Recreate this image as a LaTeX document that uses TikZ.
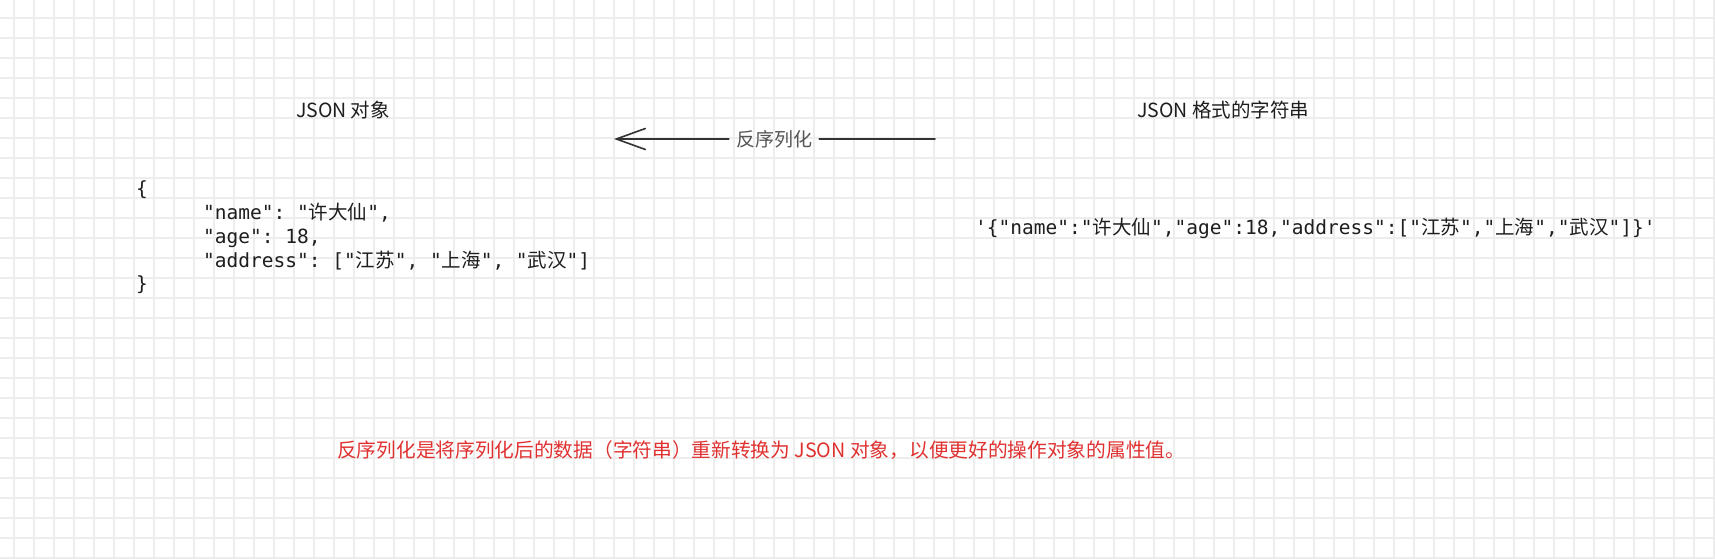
\documentclass[tikz,border=0pt]{standalone}
\usepackage{fontspec}
\setmainfont{Noto Sans CJK SC}
\newfontfamily\cjkfont{Noto Sans CJK SC}
\newfontfamily\codefont{DejaVu Sans Mono}
\usetikzlibrary{arrows.meta}
\definecolor{ink}{HTML}{1E1E1E}
\definecolor{gridc}{HTML}{EDEDED}
\definecolor{redtext}{HTML}{E03131}
\definecolor{arrowc}{HTML}{333333}
\definecolor{labelc}{HTML}{555555}
\tikzset{
  gridline/.style={draw=gridc, line width=1.5pt},
  title/.style={inner sep=0pt, text=ink, font=\fontsize{19.5}{23}\selectfont},
  code/.style={inner sep=0pt, anchor=west, text=ink, text height=0.7em, text depth=0.1em, font=\codefont\fontsize{19.5}{24}\selectfont\frenchspacing},
  arrowlabel/.style={inner xsep=7pt, inner ysep=0pt, text=labelc, font=\fontsize{19}{23}\selectfont},
  arrowline/.style={draw=arrowc, line width=1.6pt, line cap=round},
  note/.style={inner sep=0pt, anchor=west, text=redtext, font=\fontsize{19.7}{24}\selectfont}
}
\newcommand{\cj}[1]{{\cjkfont #1}}
\begin{document}
\begin{tikzpicture}[x=1pt,y=-1pt]
\useasboundingbox (0,0) rectangle (1715,559);
\fill[white] (0,0) rectangle (1715,559);
% grid
\foreach \i in {0,...,85} \draw[gridline] ({14+20*\i},0) -- ({14+20*\i},559);
\foreach \j in {0,...,27} \draw[gridline] (0,{18+20*\j}) -- (1715,{18+20*\j});
% titles
\node[title] (objTitle) at (343,110) {JSON 对象};
\node[title] (strTitle) at (1223,110) {JSON 格式的字符串};
% arrow
\coordinate (arrowStart) at (935,139);
\coordinate (arrowTip) at (614,139);
\node[arrowlabel] (lbl) at (774,139) {反序列化};
\draw[arrowline] (arrowStart) -- (lbl.east);
\draw[arrowline, -{Straight Barb[length=29pt,width=21pt,line cap=round]}] (lbl.west) -- (arrowTip);
% object code
\node[code] (o1) at (136,192) {\{};
\node[code] (o2) at (203,216) {"name": "\cj{许大仙}",};
\node[code] (o3) at (203,240) {"age": 18,};
\node[code] (o4) at (203,264) {"address": ["\cj{江苏}", "\cj{上海}", "\cj{武汉}"]};
\node[code] (o5) at (136,287) {\}};
% string code
\node[code] (s1) at (975,231) {\textquotesingle\{"name":"\cj{许大仙}","age":18,"address":["\cj{江苏}","\cj{上海}","\cj{武汉}"]\}\textquotesingle};
% note
\node[note] (note) at (337,450) {反序列化是将序列化后的数据（字符串）重新转换为 JSON 对象，以便更好的操作对象的属性值。};
\end{tikzpicture}
\end{document}
